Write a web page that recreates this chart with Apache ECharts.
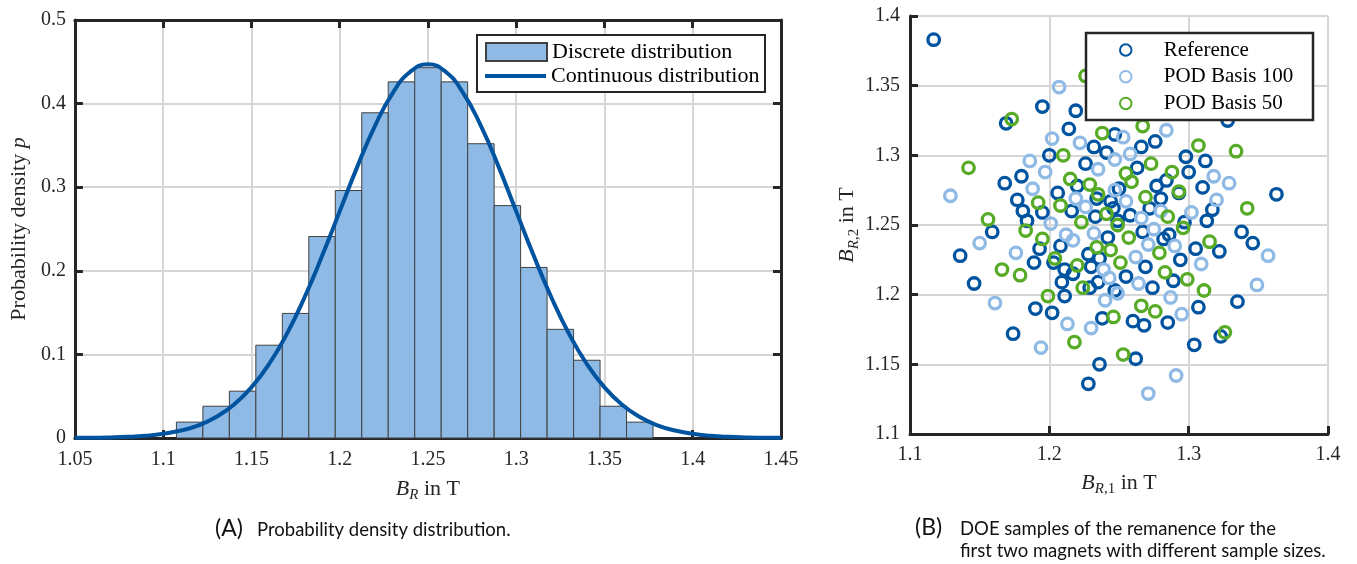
<!DOCTYPE html>
<html><head><meta charset="utf-8">
<script src="https://cdn.jsdelivr.net/npm/echarts@6/dist/echarts.min.js"></script>
<style>html,body{margin:0;padding:0;background:#fff}#c{width:1357px;height:564px}</style>
</head><body><div id="c"></div>
<script>
// ---------- Data: (A) histogram ----------
const binWidth = 0.015;
const histCenters = [1.115,1.13,1.145,1.16,1.175,1.19,1.205,1.22,1.235,1.25,1.265,1.28,1.295,1.31,1.325,1.34,1.355,1.37];
const histValues  = [0.019,0.038,0.056,0.111,0.149,0.241,0.296,0.389,0.426,0.443,0.426,0.352,0.278,0.204,0.130,0.093,0.038,0.019];
// continuous distribution
const curveX = [1.05,1.06,1.07,1.08,1.09,1.10,1.11,1.12,1.13,1.14,1.15,1.16,1.17,1.18,1.19,1.20,1.21,1.22,1.23,1.24,1.25,
                1.26,1.27,1.28,1.29,1.30,1.31,1.32,1.33,1.34,1.35,1.36,1.37,1.38,1.39,1.40,1.41,1.42,1.43,1.44,1.45];
const curveY = [0.0002,0.0003,0.0007,0.0014,0.0027,0.0050,0.0089,0.0152,0.0251,0.0397,0.0605,0.0885,0.1243,0.1678,0.2176,0.2711,0.3246,0.3734,0.4126,0.4381,0.4470,
                0.4381,0.4126,0.3734,0.3246,0.2711,0.2176,0.1678,0.1243,0.0885,0.0605,0.0397,0.0251,0.0152,0.0089,0.0050,0.0027,0.0014,0.0007,0.0003,0.0002];
// ---------- Data: (B) DOE samples ----------
const referencePts = [
[1.117,1.383],[1.195,1.335],[1.219,1.332],[1.169,1.323],[1.328,1.325],[1.214,1.319],[1.247,1.315],[1.276,1.310],
[1.232,1.306],[1.241,1.302],[1.266,1.306],[1.200,1.300],[1.298,1.299],[1.312,1.296],[1.226,1.294],[1.263,1.291],
[1.300,1.288],[1.180,1.285],[1.284,1.282],[1.168,1.280],[1.277,1.278],[1.220,1.278],[1.310,1.277],[1.250,1.276],
[1.206,1.273],[1.293,1.273],[1.363,1.272],[1.177,1.268],[1.280,1.269],[1.244,1.267],[1.234,1.269],[1.181,1.260],
[1.216,1.260],[1.195,1.259],[1.272,1.262],[1.246,1.262],[1.317,1.261],[1.258,1.257],[1.233,1.256],[1.184,1.253],
[1.313,1.253],[1.297,1.252],[1.249,1.253],[1.159,1.245],[1.338,1.245],[1.267,1.245],[1.286,1.243],[1.242,1.241],
[1.282,1.240],[1.346,1.237],[1.208,1.235],[1.193,1.233],[1.305,1.233],[1.322,1.231],[1.136,1.228],[1.228,1.229],
[1.236,1.226],[1.294,1.225],[1.203,1.223],[1.189,1.223],[1.269,1.220],[1.230,1.220],[1.211,1.218],[1.217,1.215],
[1.255,1.213],[1.209,1.209],[1.235,1.209],[1.289,1.210],[1.146,1.208],[1.274,1.205],[1.229,1.205],[1.247,1.203],
[1.211,1.199],[1.335,1.195],[1.190,1.190],[1.307,1.191],[1.202,1.187],[1.238,1.183],[1.260,1.181],[1.285,1.180],
[1.268,1.178],[1.174,1.172],[1.323,1.170],[1.304,1.164],[1.262,1.154],[1.236,1.150],[1.228,1.136]];
const pod100Pts = [
[1.207,1.349],[1.284,1.318],[1.253,1.313],[1.202,1.312],[1.222,1.309],[1.258,1.301],[1.247,1.297],[1.186,1.296],
[1.235,1.290],[1.197,1.288],[1.318,1.285],[1.329,1.280],[1.188,1.276],[1.247,1.275],[1.129,1.271],[1.219,1.269],
[1.320,1.268],[1.255,1.267],[1.226,1.263],[1.280,1.260],[1.302,1.259],[1.266,1.255],[1.201,1.251],[1.275,1.247],
[1.212,1.243],[1.232,1.244],[1.217,1.239],[1.150,1.237],[1.271,1.236],[1.290,1.235],[1.176,1.230],[1.262,1.227],
[1.357,1.228],[1.309,1.222],[1.239,1.218],[1.243,1.212],[1.264,1.208],[1.249,1.201],[1.349,1.207],[1.240,1.196],
[1.287,1.198],[1.161,1.194],[1.295,1.186],[1.213,1.179],[1.230,1.176],[1.194,1.162],[1.291,1.142],[1.271,1.129]];
const pod50Pts = [
[1.226,1.357],[1.173,1.326],[1.267,1.321],[1.238,1.316],[1.307,1.307],[1.334,1.303],[1.210,1.300],[1.142,1.291],
[1.273,1.294],[1.288,1.288],[1.255,1.287],[1.215,1.283],[1.259,1.281],[1.229,1.279],[1.293,1.274],[1.235,1.272],
[1.269,1.270],[1.192,1.266],[1.208,1.264],[1.342,1.262],[1.241,1.258],[1.285,1.256],[1.156,1.254],[1.223,1.252],
[1.249,1.250],[1.296,1.248],[1.183,1.246],[1.257,1.241],[1.195,1.240],[1.315,1.238],[1.234,1.234],[1.244,1.232],
[1.279,1.230],[1.204,1.226],[1.251,1.223],[1.220,1.221],[1.166,1.218],[1.283,1.216],[1.179,1.214],[1.299,1.211],
[1.224,1.205],[1.311,1.203],[1.199,1.199],[1.266,1.192],[1.276,1.188],[1.246,1.184],[1.326,1.173],[1.218,1.166],[1.253,1.157]];
const seriesNames = ['Reference','POD Basis 100','POD Basis 50'];

// ---------- Styles ----------
const serif = 'Liberation Serif';
const sans = 'Lato';
const ink = '#262626';
const gridCol = '#d6d6d6';
const darkBlue = '#00549F', lightBlue = '#8EBAE5', green = '#57AB27';
const fmt = v => String(parseFloat(v.toFixed(2)));

const frameLine = () => ({show:true, onZero:false, lineStyle:{color:ink, width:3}});
const tickIn = () => ({show:true, inside:true, length:8, lineStyle:{color:ink, width:3}});
const tickLbl = (m) => ({fontFamily:serif, fontSize:20, color:ink, margin:m, formatter:fmt});
const noSplit = {show:false};
// axis that only draws grid lines, kept underneath the frame/tick axes
const gridAxis = (gi, min, max, interval) => ({gridIndex:gi, type:'value', min, max, interval, z:0,
  axisLine:{show:false}, axisTick:{show:false}, axisLabel:{show:false},
  splitLine:{show:true, lineStyle:{color:gridCol, width:2}}});
const sub = (extra) => Object.assign({fontFamily:serif, fontSize:15, color:ink, verticalAlign:'bottom', padding:[12,0,0,0]}, extra||{});
const nameRich = {
  b:{fontFamily:serif, fontStyle:'italic', fontSize:22, color:ink},
  s:sub({fontStyle:'italic'}),
  t:sub({}),
  n:{fontFamily:serif, fontSize:22, color:ink},
  i:{fontFamily:serif, fontStyle:'italic', fontSize:22, color:ink}
};
const capA = {fontFamily:sans, fontSize:23, fill:'#111'};
const capT = {fontFamily:sans, fontSize:18.5, fill:'#111'};
const ring = (col) => ({color:'rgba(0,0,0,0)', borderColor:col, borderWidth:3.3, opacity:1});

const chart = echarts.init(document.getElementById('c'));
const option = {
  animation:false,
  backgroundColor:'#fff',
  grid:[
    {left:73, top:20, width:708, height:418},
    {left:910, top:16, width:418, height:418}
  ],
  xAxis:[
    {gridIndex:0, type:'value', min:1.05, max:1.45, interval:0.05, position:'bottom', z:1,
     axisLine:frameLine(), axisTick:tickIn(), axisLabel:tickLbl(12), splitLine:noSplit,
     name:'{b|B}{s|R}{n| in T}', nameLocation:'middle', nameGap:38, nameTextStyle:{rich:nameRich}},
    {gridIndex:0, type:'value', min:1.05, max:1.45, interval:0.05, position:'top', z:1,
     axisLine:frameLine(), axisTick:tickIn(), axisLabel:{show:false}, splitLine:noSplit},
    {gridIndex:1, type:'value', min:1.1, max:1.4, interval:0.1, position:'bottom', z:1,
     axisLine:frameLine(), axisTick:tickIn(), axisLabel:tickLbl(11), splitLine:noSplit,
     name:'{b|B}{s|R}{t|,1}{n| in T}', nameLocation:'middle', nameGap:36, nameTextStyle:{rich:nameRich}},
    gridAxis(0, 1.05, 1.45, 0.05),
    gridAxis(1, 1.1, 1.4, 0.1)
  ],
  yAxis:[
    {gridIndex:0, type:'value', min:0, max:0.5, interval:0.1, position:'left', z:1,
     axisLine:frameLine(), axisTick:tickIn(), axisLabel:tickLbl(9), splitLine:noSplit,
     name:'Probability density {i|p}', nameLocation:'middle', nameGap:42,
     nameTextStyle:{fontFamily:serif, fontSize:22, color:ink, rich:nameRich}},
    {gridIndex:0, type:'value', min:0, max:0.5, interval:0.1, position:'right', z:1,
     axisLine:frameLine(), axisTick:tickIn(), axisLabel:{show:false}, splitLine:noSplit},
    {gridIndex:1, type:'value', min:1.1, max:1.4, interval:0.05, position:'left', z:1,
     axisLine:frameLine(), axisTick:tickIn(), axisLabel:tickLbl(10), splitLine:noSplit,
     name:'{b|B}{s|R}{t|,2}{n| in T}', nameLocation:'middle', nameGap:44, nameTextStyle:{rich:nameRich}},
    gridAxis(0, 0, 0.5, 0.1),
    gridAxis(1, 1.1, 1.4, 0.05)
  ],
  legend:[
    {data:['Discrete distribution'], left:485, top:40, orient:'vertical', padding:0, icon:'rect',
     itemWidth:61, itemHeight:18, textStyle:{fontFamily:serif, fontSize:22, color:'#000', lineHeight:24}, selectedMode:false},
    {data:['Continuous distribution'], left:485, top:64, orient:'vertical', padding:0, icon:'rect',
     itemWidth:61, itemHeight:4, textStyle:{fontFamily:serif, fontSize:22, color:'#000', lineHeight:24}, selectedMode:false},
    {data:seriesNames, left:1119, top:39, orient:'vertical', padding:0, icon:'circle',
     itemWidth:66, itemHeight:11.5, itemGap:4.7, textStyle:{fontFamily:serif, fontSize:21, color:'#000', lineHeight:22}, selectedMode:false}
  ],
  graphic:[
    {type:'rect', z:3, shape:{x:477, y:35, width:288, height:57}, style:{fill:'#fff', stroke:ink, lineWidth:2}},
    {type:'rect', z:3, shape:{x:1086, y:33, width:227, height:87}, style:{fill:'#fff', stroke:ink, lineWidth:2.5}},
    {type:'text', z:3, x:215, y:529, style:Object.assign({text:'(A)', verticalAlign:'middle'}, capA)},
    {type:'text', z:3, x:257, y:530, style:Object.assign({text:'Probability density distribution.', verticalAlign:'middle'}, capT)},
    {type:'text', z:3, x:915, y:528, style:Object.assign({text:'(B)', verticalAlign:'middle'}, capA)},
    {type:'text', z:3, x:960, y:529, style:Object.assign({text:'DOE samples of the remanence for the', verticalAlign:'middle'}, capT)},
    {type:'text', z:3, x:960, y:551, style:Object.assign({text:'first two magnets with different sample sizes.', verticalAlign:'middle'}, capT)}
  ],
  series:[
    {name:'Discrete distribution', type:'custom', xAxisIndex:0, yAxisIndex:0,
     itemStyle:{color:lightBlue, borderColor:'#404040', borderWidth:1},
     data:histCenters.map((c,i)=>[c, histValues[i]]),
     encode:{x:0, y:1},
     renderItem:(params, api) => {
       const c = api.value(0), h = api.value(1);
       const p0 = api.coord([c - binWidth/2, h]);
       const p1 = api.coord([c + binWidth/2, 0]);
       return {type:'rect', shape:{x:p0[0], y:p0[1], width:p1[0]-p0[0], height:p1[1]-p0[1]},
               style:{fill:lightBlue, stroke:'#404040', lineWidth:1}};
     }},
    {name:'Continuous distribution', type:'line', xAxisIndex:0, yAxisIndex:0, color:darkBlue,
     showSymbol:false, smooth:true, lineStyle:{color:darkBlue, width:4}, itemStyle:{color:darkBlue},
     data:curveX.map((x,i)=>[x, curveY[i]])},
    {name:seriesNames[0], type:'scatter', xAxisIndex:2, yAxisIndex:2, symbol:'circle', symbolSize:11.5,
     itemStyle:ring(darkBlue), data:referencePts},
    {name:seriesNames[1], type:'scatter', xAxisIndex:2, yAxisIndex:2, symbol:'circle', symbolSize:11.5,
     itemStyle:ring(lightBlue), data:pod100Pts},
    {name:seriesNames[2], type:'scatter', xAxisIndex:2, yAxisIndex:2, symbol:'circle', symbolSize:11.5,
     itemStyle:ring(green), data:pod50Pts}
  ]
};
chart.setOption(option);
</script></body></html>
